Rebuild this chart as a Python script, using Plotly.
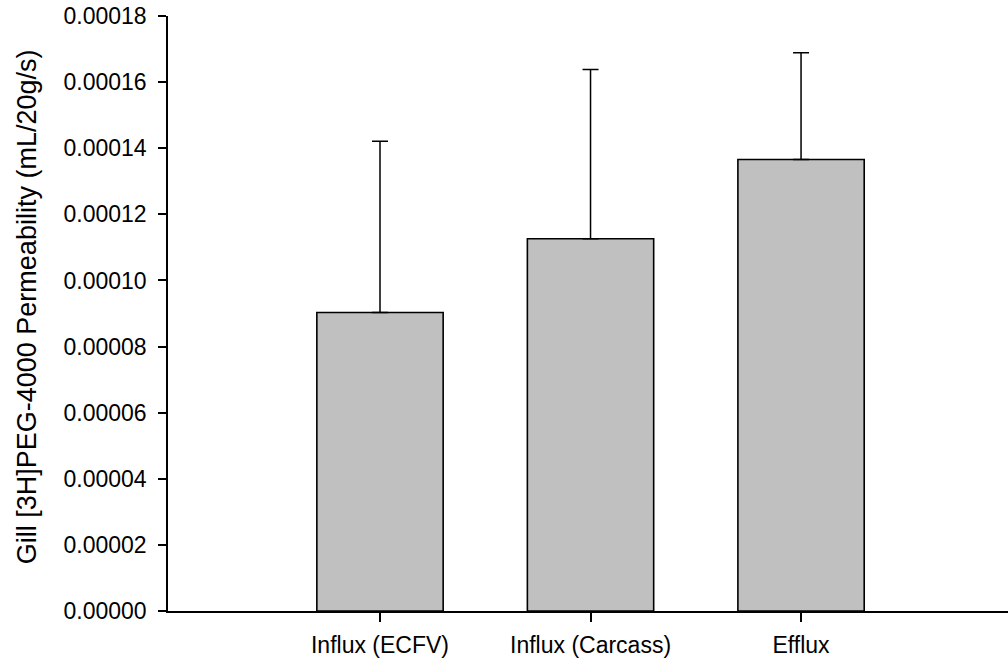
import plotly.graph_objects as go

# Gill [3H]PEG-4000 permeability, mean with upper SEM bar
categories = ["Influx (ECFV)", "Influx (Carcass)", "Efflux"]
positions = [1, 2, 3]
means = [0.0000903, 0.0001126, 0.0001366]
sem = [0.0000518, 0.0000512, 0.0000323]
y_ticks = [0.00000, 0.00002, 0.00004, 0.00006, 0.00008,
           0.00010, 0.00012, 0.00014, 0.00016, 0.00018]

FONT = "Liberation Sans, Arial, sans-serif"

fig = go.Figure(
    go.Bar(
        x=positions,
        y=means,
        width=0.6,
        marker=dict(color="#c0c0c0", line=dict(color="black", width=1.6)),
        error_y=dict(
            type="data",
            array=sem,
            arrayminus=[0] * len(sem),
            symmetric=False,
            color="black",
            thickness=1.5,
            width=8,
        ),
    )
)

fig.update_layout(
    width=1008,
    height=663,
    margin=dict(l=168, r=0, t=16, b=52, pad=0),
    plot_bgcolor="white",
    paper_bgcolor="white",
    showlegend=False,
    font=dict(family=FONT, color="black"),
)

fig.update_xaxes(
    range=[-0.007, 3.983],
    tickvals=positions,
    ticktext=categories,
    ticks="outside",
    ticklen=9,
    tickwidth=1.5,
    tickcolor="black",
    showline=True,
    linecolor="black",
    linewidth=1.6,
    showgrid=False,
    zeroline=False,
    ticklabelstandoff=4,
    tickfont=dict(size=23, family=FONT, color="black"),
)

fig.update_yaxes(
    range=[0, 0.00018],
    tickvals=y_ticks,
    tickformat=".5f",
    ticks="outside",
    ticklen=8,
    tickwidth=1.5,
    tickcolor="black",
    showline=True,
    linecolor="black",
    linewidth=1.6,
    showgrid=False,
    zeroline=False,
    ticklabelstandoff=7,
    tickfont=dict(size=23, family=FONT, color="black"),
)

fig.add_annotation(
    text="Gill [3H]PEG-4000 Permeability (mL/20g/s)",
    textangle=-90,
    xref="paper",
    yref="paper",
    x=0,
    y=0.5105,
    xanchor="center",
    yanchor="middle",
    xshift=-141,
    showarrow=False,
    font=dict(size=27, family=FONT, color="black"),
)

fig.write_html("out.html")
